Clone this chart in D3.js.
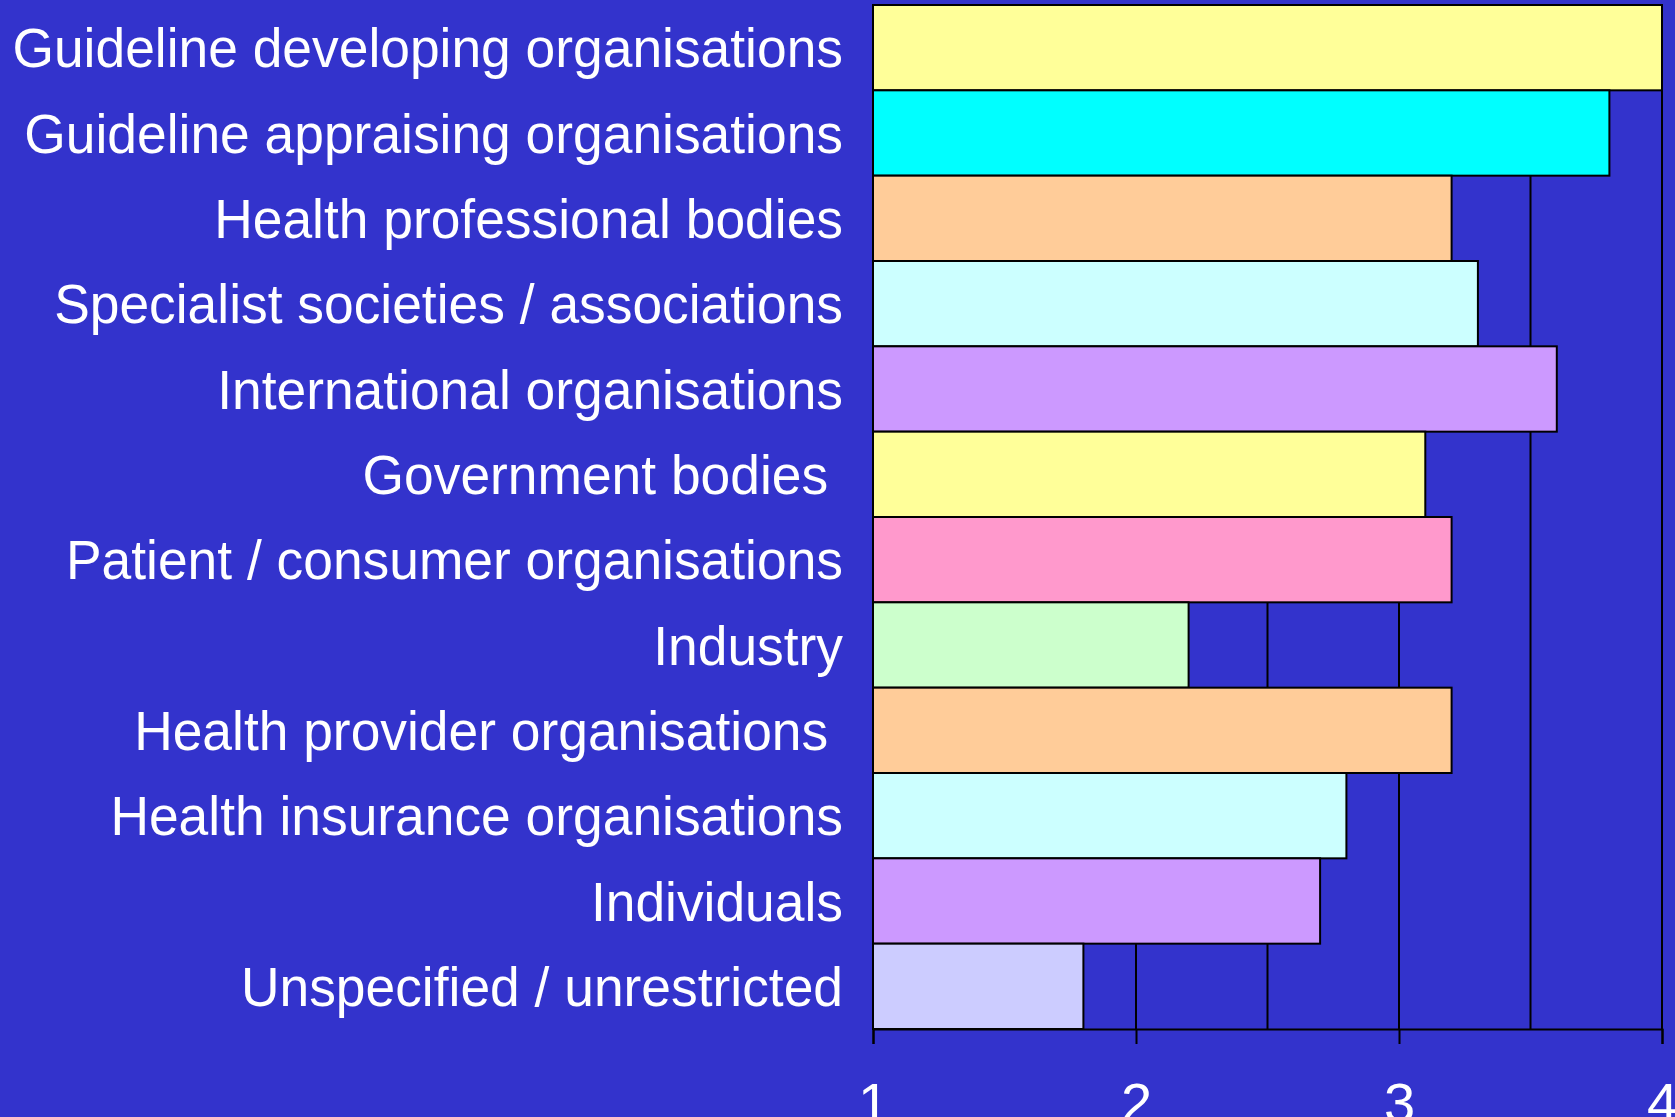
<!DOCTYPE html>
<html>
<head>
<meta charset="utf-8">
<script src="https://cdn.jsdelivr.net/npm/d3@7"></script>
<style>
  html, body { margin: 0; padding: 0; background: #3333CC; overflow: hidden; }
  svg { display: block; }
</style>
</head>
<body>
<div id="chart"></div>
<script>
// Datos
const categories = [
    'Guideline developing organisations',
    'Guideline appraising organisations',
    'Health professional bodies',
    'Specialist societies / associations',
    'International organisations',
    'Government bodies ',
    'Patient / consumer organisations',
    'Industry',
    'Health provider organisations ',
    'Health insurance organisations',
    'Individuals',
    'Unspecified / unrestricted'
];
const values = [4.0, 3.8, 3.2, 3.3, 3.6, 3.1, 3.2, 2.2, 3.2, 2.8, 2.7, 1.8];
const barColors = ['#FFFF99', '#00FFFF', '#FFCC99', '#CCFFFF', '#CC99FF', '#FFFF99',
                   '#FF99CC', '#CCFFCC', '#FFCC99', '#CCFFFF', '#CC99FF', '#CCCCFF'];
const tickValues = [1, 2, 3, 4];
const gridValues = [1.5, 2, 2.5, 3, 3.5, 4];

const W = 1675, H = 1117;
const margin = {top: 5, right: 13, bottom: 88, left: 873};
const width = W - margin.left - margin.right,
      height = H - margin.top - margin.bottom;
const FONT = '"Liberation Sans", Arial, sans-serif';

const svg = d3.select('#chart').append('svg')
    .attr('width', W)
    .attr('height', H);

const g = svg.append('g')
    .attr('transform', 'translate(' + margin.left + ',' + margin.top + ')');

// Escalas
const x = d3.scaleLinear().domain([1, 4]).range([0, width]);
const y = d3.scaleBand().domain(categories).range([0, height]).padding(0);

// Rejilla
g.append('g')
    .selectAll('line')
    .data(gridValues)
    .enter()
    .append('line')
    .attr('x1', d => x(d)).attr('x2', d => x(d))
    .attr('y1', 0).attr('y2', height)
    .attr('stroke', '#000')
    .attr('stroke-width', 2);

// Barras
g.append('g')
    .selectAll('rect')
    .data(values)
    .enter()
    .append('rect')
    .attr('x', x(1))
    .attr('y', (d, i) => y(categories[i]))
    .attr('width', d => x(d) - x(1))
    .attr('height', y.bandwidth())
    .attr('fill', (d, i) => barColors[i])
    .attr('stroke', '#000')
    .attr('stroke-width', 2);

// Eje X
const xAxis = g.append('g')
    .attr('transform', 'translate(0,' + height + ')')
    .call(d3.axisBottom(x).tickValues(tickValues).tickFormat(d3.format('d'))
        .tickSize(15).tickPadding(38));
xAxis.select('.domain').attr('stroke', '#000').attr('stroke-width', 2);
xAxis.selectAll('.tick line').attr('stroke', '#000').attr('stroke-width', 2);
xAxis.selectAll('.tick text')
    .attr('fill', '#fff')
    .style('font-family', FONT)
    .style('font-size', '56px');

// Etiquetas de categoría
g.append('g')
    .selectAll('text')
    .data(categories)
    .enter()
    .append('text')
    .attr('transform', d => 'translate(-30,' + (y(d) + y.bandwidth() / 2) + ') scale(0.953,1)')
    .attr('dy', '0.35em')
    .attr('text-anchor', 'end')
    .attr('fill', '#fff')
    .style('white-space', 'pre')
    .style('font-family', FONT)
    .style('font-size', '56px')
    .text(d => d);
</script>
</body>
</html>
